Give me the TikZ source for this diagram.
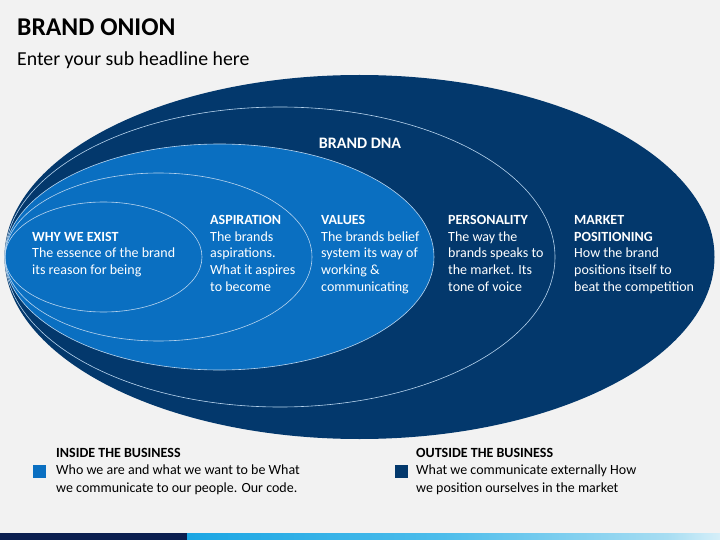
\documentclass[tikz,border=0pt]{standalone}
\usepackage{fontspec}
\setmainfont{Carlito}
\definecolor{navy}{HTML}{03386C}
\definecolor{lblue}{HTML}{0A6FC1}
\definecolor{bg}{HTML}{F2F2F2}
\definecolor{barnavy}{HTML}{0B1F50}
\definecolor{ringc}{HTML}{B8D4EE}
\definecolor{ga}{HTML}{0B5FB5}
\definecolor{gb}{HTML}{12A2E2}
\definecolor{gc}{HTML}{4DBDEB}
\definecolor{gd}{HTML}{A7DDF2}
\definecolor{ge}{HTML}{F2FAFD}
\definecolor{gf}{HTML}{9AD6F1}
\definecolor{gg}{HTML}{4E9FD8}
\pgfdeclarehorizontalshading{barshade}{100bp}{color(0bp)=(ga); color(21bp)=(gb); color(49bp)=(gc); color(70bp)=(gd); color(78bp)=(ge); color(89bp)=(gf); color(100bp)=(gg)}
\tikzset{
  ring/.style={draw=ringc, line width=0.6pt},
  txt/.style={font=\fontsize{14}{16.7}\selectfont, text=white, align=left, anchor=base west, inner sep=0pt},
  legtxt/.style={font=\fontsize{14}{17.5}\selectfont, text=black, align=left, anchor=base west, inner sep=0pt},
  sq/.style={minimum size=13pt, inner sep=0pt, draw=none}
}
\begin{document}
\begin{tikzpicture}[x=1pt,y=-1pt]
\useasboundingbox (0,0) rectangle (720,540);
\fill[bg] (0,0) rectangle (720,540);
% onion
\fill[navy] (359.5,257) ellipse [x radius=355, y radius=182];
\draw[ring] (280,257) ellipse [x radius=275, y radius=150];
\filldraw[fill=lblue, draw=ringc, line width=0.6pt] (219.5,257) ellipse [x radius=214.5, y radius=113];
\draw[ring] (158.5,257) ellipse [x radius=153.5, y radius=84];
\draw[ring] (103.5,257) ellipse [x radius=98.5, y radius=55];
% titles
\node[anchor=base west, inner sep=0pt, font=\fontsize{25.6}{30}\selectfont\bfseries, text=black] (title) at (17,36) {BRAND ONION};
\node[anchor=base west, inner sep=0pt, font=\fontsize{19.8}{24}\selectfont, text=black] (sub) at (17,65.7) {Enter your sub headline here};
% labels (base anchor = last line's baseline)
\node[txt, anchor=base, font=\fontsize{16}{19}\selectfont\bfseries] (dna) at (360,148.2) {BRAND DNA};
\node[txt] (why) at (32,274.4) {\textbf{WHY WE EXIST}\\The essence of the brand\\its reason for being};
\node[txt] (asp) at (210,291.1) {\textbf{ASPIRATION}\\The brands\\aspirations.\\What it aspires\\to become};
\node[txt] (val) at (321,291.1) {\textbf{VALUES}\\The brands belief\\system its way of\\working \&\\communicating};
\node[txt] (per) at (448,291.1) {\textbf{PERSONALITY}\\The way the\\brands speaks to\\the market. Its\\tone of voice};
\node[txt] (mkt) at (574,291.1) {\textbf{MARKET}\\\textbf{POSITIONING}\\How the brand\\positions itself to\\beat the competition};
% legend
\node[sq, fill=lblue] (sqin) at (39.5,471.5) {};
\node[sq, fill=navy] (sqout) at (401.5,471.5) {};
\node[legtxt] (inside) at (56,492.3) {\textbf{INSIDE THE BUSINESS}\\Who we are and what we want to be What\\we communicate to our people. Our code.};
\node[legtxt] (outside) at (416,492.3) {\textbf{OUTSIDE THE BUSINESS}\\What we communicate externally How\\we position ourselves in the market};
% bottom bar
\fill[barnavy] (0,533) rectangle (187,540);
\shade[shading=barshade] (187,533) rectangle (720,540);
\end{tikzpicture}
\end{document}
